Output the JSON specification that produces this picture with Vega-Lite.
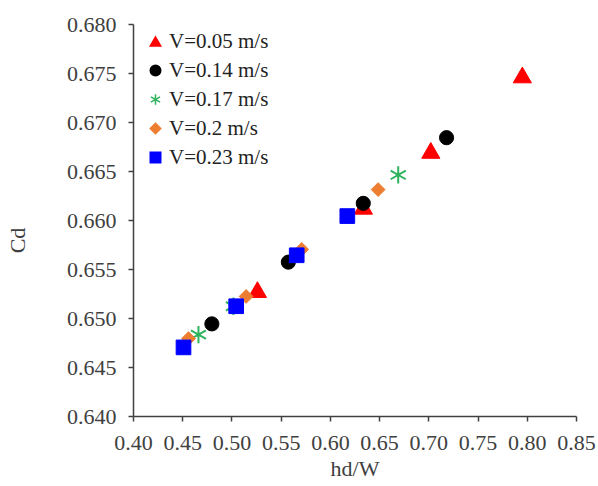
{
  "$schema": "https://vega.github.io/schema/vega-lite/v6.json",
  "width": 443,
  "height": 392,
  "autosize": "none",
  "padding": {"left": 133, "top": 24, "right": 22, "bottom": 70},
  "background": "white",
  "config": {
    "view": {"stroke": null},
    "font": "Liberation Serif",
    "axis": {
      "grid": false,
      "domainColor": "#404040",
      "tickColor": "#404040",
      "labelColor": "#404040",
      "titleColor": "#404040",
      "labelFont": "Liberation Serif",
      "titleFont": "Liberation Serif",
      "labelFontSize": 22,
      "titleFontSize": 22,
      "titleFontWeight": "normal",
      "tickSize": 5,
      "domainWidth": 1.5,
      "tickWidth": 1.5
    },
    "legend": {
      "labelFont": "Liberation Serif", "labelFontSize": 21, "labelColor": "#222"
    }
  },
  "data": {
    "values": [
      {"V": "V=0.05 m/s", "x": 0.5264, "cd": 0.6529},
      {"V": "V=0.05 m/s", "x": 0.634, "cd": 0.6614},
      {"V": "V=0.05 m/s", "x": 0.7025, "cd": 0.6671},
      {"V": "V=0.05 m/s", "x": 0.7955, "cd": 0.6748},
      {"V": "V=0.14 m/s", "x": 0.4801, "cd": 0.6494},
      {"V": "V=0.14 m/s", "x": 0.5578, "cd": 0.6557},
      {"V": "V=0.14 m/s", "x": 0.6339, "cd": 0.6617},
      {"V": "V=0.14 m/s", "x": 0.7185, "cd": 0.6684},
      {"V": "V=0.17 m/s", "x": 0.4665, "cd": 0.6483},
      {"V": "V=0.17 m/s", "x": 0.502, "cd": 0.6512},
      {"V": "V=0.17 m/s", "x": 0.6694, "cd": 0.6646},
      {"V": "V=0.2 m/s", "x": 0.4564, "cd": 0.6479},
      {"V": "V=0.2 m/s", "x": 0.5149, "cd": 0.6522},
      {"V": "V=0.2 m/s", "x": 0.5714, "cd": 0.657},
      {"V": "V=0.2 m/s", "x": 0.649, "cd": 0.6631},
      {"V": "V=0.23 m/s", "x": 0.4513, "cd": 0.647},
      {"V": "V=0.23 m/s", "x": 0.5048, "cd": 0.6512},
      {"V": "V=0.23 m/s", "x": 0.5663, "cd": 0.6564},
      {"V": "V=0.23 m/s", "x": 0.6177, "cd": 0.6604}
    ]
  },
  "encoding": {
    "x": {
      "field": "x", "type": "quantitative", "title": "hd/W",
      "scale": {"domain": [0.4, 0.85], "nice": false, "zero": false},
      "axis": {"values": [0.4, 0.45, 0.5, 0.55, 0.6, 0.65, 0.7, 0.75, 0.8, 0.85], "format": ".2f", "labelPadding": 11, "titleY": 42, "labelFlush": false}
    },
    "y": {
      "field": "cd", "type": "quantitative", "title": "Cd",
      "scale": {"domain": [0.64, 0.68], "nice": false, "zero": false},
      "axis": {"values": [0.64, 0.645, 0.65, 0.655, 0.66, 0.665, 0.67, 0.675, 0.68], "format": ".3f", "labelPadding": 12, "titleX": -104, "titleY": 216, "labelFlush": false}
    },
    "shape": {
      "field": "V", "type": "nominal",
      "scale": {
        "domain": ["V=0.05 m/s", "V=0.14 m/s", "V=0.17 m/s", "V=0.2 m/s", "V=0.23 m/s"],
        "range": ["triangle-up", "circle", "M0,-1L0,1M-0.87,-0.5L0.87,0.5M-0.87,0.5L0.87,-0.5", "diamond", "square"]
      },
      "legend": {
        "title": null, "orient": "none", "legendX": 12, "legendY": 7,
        "padding": 0, "rowPadding": 7, "labelOffset": 3,
        "symbolSize": 110, "symbolStrokeWidth": 1.5
      }
    },
    "fill": {
      "field": "V", "type": "nominal",
      "scale": {
        "domain": ["V=0.05 m/s", "V=0.14 m/s", "V=0.17 m/s", "V=0.2 m/s", "V=0.23 m/s"],
        "range": ["#FF0000", "#000000", "#2DB35C", "#ED7D31", "#0000FF"]
      }
    },
    "stroke": {
      "field": "V", "type": "nominal",
      "scale": {
        "domain": ["V=0.05 m/s", "V=0.14 m/s", "V=0.17 m/s", "V=0.2 m/s", "V=0.23 m/s"],
        "range": ["#FF0000", "#000000", "#2DB35C", "#ED7D31", "#0000FF"]
      }
    }
  },
  "layer": [
    {"transform": [{"filter": "datum.V === 'V=0.05 m/s'"}], "mark": {"type": "point", "filled": true, "opacity": 1, "size": 330, "strokeWidth": 1}},
    {"transform": [{"filter": "datum.V === 'V=0.14 m/s'"}], "mark": {"type": "point", "filled": true, "opacity": 1, "size": 200, "strokeWidth": 1}},
    {"transform": [{"filter": "datum.V === 'V=0.17 m/s'"}], "mark": {"type": "point", "filled": true, "opacity": 1, "size": 300, "strokeWidth": 2}},
    {"transform": [{"filter": "datum.V === 'V=0.2 m/s'"}], "mark": {"type": "point", "filled": true, "opacity": 1, "size": 190, "strokeWidth": 1}},
    {"transform": [{"filter": "datum.V === 'V=0.23 m/s'"}], "mark": {"type": "point", "filled": true, "opacity": 1, "size": 215, "strokeWidth": 1}}
  ]
}
